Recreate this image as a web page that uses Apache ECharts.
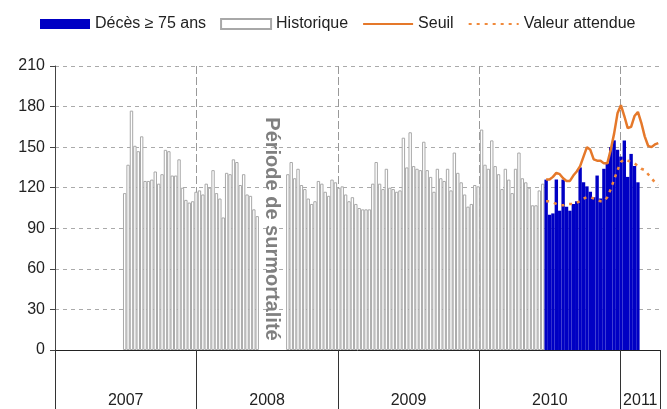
<!DOCTYPE html>
<html>
<head>
<meta charset="utf-8">
<script src="https://cdn.jsdelivr.net/npm/echarts@6/dist/echarts.min.js"></script>
<style>
  html, body { margin: 0; padding: 0; background: #fff; }
  #main { width: 667px; height: 409px; }
</style>
</head>
<body>
<div id="main"></div>
<script>
// one slot = one bar of the chart; hist data starts mid 2007
const SLOT_COUNT = 178;
const SLOTS_PER_YEAR = 41.6;
const HIST_START = 20;
const CURRENT_START = 144;
const LINES_START = 144;

const yearLabels = ['2007', '2008', '2009', '2010', '2011'];

const historique = [
    116, 137, 177, 151, 147, 158, 125, 125, 126, 132,
    123, 130, 148, 147, 129, 129, 141, 120, 111, 109,
    110, 117, 118, 115, 123, 120, 133, 116, 112, 98,
    131, 130, 141, 139, 122, 130, 115, 114, 104, 99,
    null, null, null, null, null, null, null, null,
    130, 139, 127, 134, 122, 119, 112, 108, 110, 125,
    123, 117, 114, 126, 124, 120, 121, 115, 110, 113,
    108, 105, 104, 104, 104, 123, 139, 123, 119, 134,
    120, 119, 117, 118, 157, 135, 161, 136, 134, 133,
    154, 133, 128, 117, 134, 127, 125, 134, 118, 146,
    131, 124, 115, 106, 108, 122, 121, 163, 137, 134,
    155, 136, 130, 119, 134, 126, 116, 134, 146, 127,
    124, 120, 107, 107, 118, 123
];

const deces75 = [
    126, 100, 101, 126, 103, 126, 106, 103, 108, 110,
    135, 124, 121, 117, 113, 129, 112, 134, 138, 150,
    155, 148, 143, 155, 128, 145, 136, 124
];

const seuil = [
    126, 126, 128, 131, 130, 127, 125, 125, 129, 132,
    136, 143, 150, 148, 141, 140, 140, 138, 138, 148,
    160, 175, 181, 173, 164, 165, 173, 176, 168, 158,
    151, 150, 152, 153
];

const valeurAttendue = [
    110, 110, 109, 108, 107, 107, 108, 108, 108, 109,
    110, 112, 113, 113, 112, 111, 110, 110, 113, 119,
    126, 133, 139, 141, 140, 139, 138, 136, 134, 133,
    130, 127, 124, 122
];

/** put `values` into a slot array starting at `start` */
const padSlots = (values, start) => {
    const out = new Array(SLOT_COUNT).fill(null);
    values.forEach((v, i) => { out[start + i] = v; });
    return out;
};

const slots = Array.from({ length: SLOT_COUNT }, (_, i) => 'S' + i);
const yearMin = Number(yearLabels[0]);
const yearMax = yearMin + SLOT_COUNT / SLOTS_PER_YEAR;
const yearTicks = yearLabels.map(Number).concat([yearMax]);
const yearLabelPos = yearLabels.map((y) => Math.min(Number(y) + 0.5, (Number(y) + yearMax) / 2));

const FONT = '"Liberation Sans", Arial, sans-serif';
const chart = echarts.init(document.getElementById('main'));

chart.setOption({
    animation: false,
    textStyle: { fontFamily: FONT },
    legend: {
        left: 35,
        top: 11,
        itemWidth: 50,
        itemHeight: 10,
        itemGap: 14,
        textStyle: { fontSize: 16, color: '#222' },
        data: [
            { name: 'Décès ≥ 75 ans', icon: 'rect' },
            { name: 'Historique', icon: 'rect' },
            { name: 'Seuil', itemStyle: { opacity: 0 } },
            { name: 'Valeur attendue', itemStyle: { opacity: 0 } },
        ],
    },
    grid: { left: 55, right: 7, top: 66, bottom: 59 },
    xAxis: [
        { type: 'category', data: slots, show: false },
        {
            type: 'value',
            min: yearMin,
            max: yearMax,
            interval: 1,
            position: 'bottom',
            axisLine: { show: true, onZero: false, lineStyle: { color: '#222' } },
            axisTick: { show: true, length: 59, customValues: yearTicks, lineStyle: { color: '#333' } },
            axisLabel: {
                customValues: yearLabelPos,
                formatter: (v) => String(Math.floor(v)),
                margin: 43,
                fontSize: 16,
                color: '#222',
            },
            splitLine: {
                show: true,
                showMinLine: false,
                showMaxLine: false,
                lineStyle: { color: '#999', type: [8, 3] },
            },
        },
    ],
    yAxis: {
        type: 'value',
        min: 0,
        max: 210,
        interval: 30,
        axisLine: { show: true, lineStyle: { color: '#444' } },
        axisTick: { show: true, length: 5, lineStyle: { color: '#444' } },
        axisLabel: { fontSize: 16, color: '#222', margin: 10 },
        splitLine: { lineStyle: { color: '#aaa', type: [4, 4] } },
    },
    graphic: [{
        type: 'text',
        x: 272,
        y: 229,
        rotation: -Math.PI / 2,
        z: 100,
        style: {
            text: 'Période de surmortalité',
            font: 'bold 20px ' + FONT,
            fill: '#808080',
            align: 'center',
            verticalAlign: 'middle',
        },
    }],
    series: [
        {
            name: 'Historique',
            type: 'bar',
            xAxisIndex: 0,
            barWidth: '100%',
            barGap: '-100%',
            itemStyle: { color: '#fff', borderColor: '#a8a8a8', borderWidth: 1 },
            data: padSlots(historique, HIST_START),
        },
        {
            name: 'Décès ≥ 75 ans',
            type: 'bar',
            xAxisIndex: 0,
            barWidth: '100%',
            barGap: '-100%',
            itemStyle: { color: '#0000c4' },
            data: padSlots(deces75, CURRENT_START),
        },
        {
            name: 'Seuil',
            type: 'line',
            xAxisIndex: 0,
            symbol: 'none',
            z: 5,
            itemStyle: { color: '#e5782a' },
            lineStyle: { color: '#e5782a', width: 2.5 },
            data: padSlots(seuil, LINES_START),
        },
        {
            name: 'Valeur attendue',
            type: 'line',
            xAxisIndex: 0,
            symbol: 'none',
            z: 6,
            itemStyle: { color: '#f08a3c' },
            lineStyle: { color: '#f08a3c', width: 2.5, type: [3, 5] },
            data: padSlots(valeurAttendue, LINES_START),
        },
    ],
});
</script>
</body>
</html>
